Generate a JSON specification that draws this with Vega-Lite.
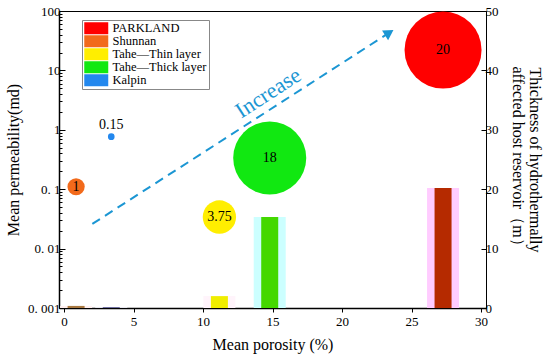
{
  "$schema": "https://vega.github.io/schema/vega-lite/v6.json",
  "width": 427,
  "height": 297,
  "autosize": {"type": "none"},
  "padding": {"left": 59, "top": 11, "right": 64, "bottom": 52},
  "background": "white",
  "config": {
    "font": "Liberation Serif",
    "view": {"stroke": "black", "strokeWidth": 1},
    "axis": {
      "domainColor": "black", "tickColor": "black", "labelColor": "black", "titleColor": "black",
      "labelFont": "Liberation Serif", "titleFont": "Liberation Serif",
      "labelFontSize": 13, "titleFontSize": 16, "titleFontWeight": "normal", "grid": false, "labelOverlap": false
    },
    "legend": {"labelFont": "Liberation Serif"}
  },
  "datasets": {
    "groups": [
      {"group": "PARKLAND", "porosity": 27.27, "permeability": 22, "thickness": 20, "bar_m": 20.2},
      {"group": "Shunnan", "porosity": 0.87, "permeability": 0.11, "thickness": 1, "bar_m": 0.35},
      {"group": "Tahe—Thin layer", "porosity": 11.18, "permeability": 0.034, "thickness": 3.75, "bar_m": 2},
      {"group": "Tahe—Thick layer", "porosity": 14.8, "permeability": 0.335, "thickness": 18, "bar_m": 15.3},
      {"group": "Kalpin", "porosity": 3.4, "permeability": 0.766, "thickness": 0.15, "bar_m": 0.12}
    ],
    "arrow": [
      {"x": 2.04, "y": 0.026, "x2": 23.4, "y2": 43.1}
    ],
    "note": [
      {"x": 14.69, "y": 4.17, "text": "Increase"}
    ]
  },
  "layer": [
    {
      "data": {"name": "groups"},
      "layer": [
        {
          "mark": {"type": "bar", "size": 32},
          "encoding": {
            "x": {"field": "porosity", "type": "quantitative", "scale": {"domain": [0, 30], "nice": false}},
            "y": {"field": "bar_m", "type": "quantitative",
              "scale": {"domain": [0, 50], "nice": false},
              "axis": {"orient": "right", "values": [0, 10, 20, 30, 40, 50], "tickSize": -5, "labelPadding": 4,
                "labelFont": "Liberation Serif", "titleFont": "Liberation Serif", "labelFontSize": 13, "labelOverlap": false,
                "title": ["Thickness of hydrothermally", "affected host reservoir（m）"],
                "titleAngle": 90, "titleLineHeight": 17, "titleBaseline": "bottom", "titlePadding": 11, "domainWidth": 1}},
            "color": {"field": "group", "type": "nominal", "legend": null,
              "scale": {"domain": ["PARKLAND", "Shunnan", "Tahe—Thin layer", "Tahe—Thick layer", "Kalpin"],
                "range": ["#ffccff", "#fff0f0", "#fff4fb", "#ccffff", "#f4f4ff"]}}
          }
        },
        {
          "mark": {"type": "bar", "size": 17},
          "encoding": {
            "x": {"field": "porosity", "type": "quantitative"},
            "y": {"field": "bar_m", "type": "quantitative"},
            "color": {"field": "group", "type": "nominal", "legend": null,
              "scale": {"domain": ["PARKLAND", "Shunnan", "Tahe—Thin layer", "Tahe—Thick layer", "Kalpin"],
                "range": ["#b52a00", "#a87840", "#f0ee00", "#44d800", "#404080"]}}
          }
        }
      ],
      "resolve": {"scale": {"color": "independent"}}
    },
    {
      "layer": [
        {
          "data": {"name": "arrow"},
          "mark": {"type": "rule", "color": "#1b96d3", "strokeWidth": 2, "strokeDash": [9, 6]},
          "encoding": {
            "x": {"field": "x", "type": "quantitative"},
            "y": {"field": "y", "type": "quantitative"},
            "x2": {"field": "x2"},
            "y2": {"field": "y2"}
          }
        },
        {
          "data": {"name": "arrow"},
          "mark": {"type": "point", "shape": "triangle-up", "filled": true, "color": "#1b96d3", "size": 130, "angle": 57.8, "opacity": 1},
          "encoding": {
            "x": {"field": "x2", "type": "quantitative"},
            "y": {"field": "y2", "type": "quantitative"}
          }
        },
        {
          "data": {"name": "note"},
          "mark": {"type": "text", "color": "#1b96d3", "fontSize": 22, "angle": -33, "font": "Liberation Serif"},
          "encoding": {
            "x": {"field": "x", "type": "quantitative"},
            "y": {"field": "y", "type": "quantitative"},
            "text": {"field": "text"}
          }
        },
        {
          "data": {"name": "groups"},
          "mark": {"type": "circle", "opacity": 1},
          "encoding": {
            "x": {"field": "porosity", "type": "quantitative",
              "scale": {"domain": [0, 30], "nice": false},
              "axis": {"values": [0, 5, 10, 15, 20, 25, 30], "tickSize": 4, "labelPadding": 3, "domainWidth": 1.5,
                "labelFont": "Liberation Serif", "titleFont": "Liberation Serif", "labelFontSize": 13, "labelOverlap": false,
                "title": "Mean porosity (%)", "titlePadding": 8}},
            "y": {"field": "permeability", "type": "quantitative",
              "scale": {"type": "log", "domain": [0.001, 100], "nice": false},
              "axis": {"orient": "left",
                "values": [0.001,0.002,0.003,0.004,0.005,0.006,0.007,0.008,0.009,0.01,0.02,0.03,0.04,0.05,0.06,0.07,0.08,0.09,0.1,0.2,0.3,0.4,0.5,0.6,0.7,0.8,0.9,1,2,3,4,5,6,7,8,9,10,20,30,40,50,60,70,80,90,100],
                "labelExpr": "datum.value==100?'100':datum.value==10?'10':datum.value==1?'1':datum.value==0.1?'0. 1':datum.value==0.01?'0. 01':datum.value==0.001?'0. 001':''",
                "tickSize": {"condition": {"test": "indexof([0.001,0.01,0.1,1,10,100], datum.value) >= 0", "value": -6}, "value": -3},
                "labelPadding": 5, "domainWidth": 1.5, "labelOverlap": false, "labelBound": false,
                "labelFont": "Liberation Serif", "titleFont": "Liberation Serif", "labelFontSize": 13,
                "title": "Mean permeability(md)", "titlePadding": 6}},
            "color": {"field": "group", "type": "nominal",
              "scale": {"domain": ["PARKLAND", "Shunnan", "Tahe—Thin layer", "Tahe—Thick layer", "Kalpin"],
                "range": ["#ff0000", "#f26a1b", "#ffee00", "#11e811", "#2388ee"]},
              "legend": {"orient": "none", "legendX": 23, "legendY": 9, "title": null,
                "strokeColor": "#888888", "fillColor": "white", "padding": 2,
                "symbolType": "M-2,-1H2V1H-2Z", "symbolSize": 144, "symbolStrokeWidth": 0,
                "symbolOffset": 6, "labelOffset": 10, "labelFont": "Liberation Serif", "labelFontSize": 12.5, "labelColor": "black", "rowPadding": 0}},
            "size": {"field": "thickness", "type": "quantitative", "legend": null,
              "scale": {"type": "linear", "domain": [0, 20], "range": [0, 5929], "zero": true}},
            "order": {"field": "thickness", "sort": "descending"}
          }
        },
        {
          "data": {"name": "groups"},
          "transform": [{"filter": "datum.group != 'Kalpin'"}],
          "mark": {"type": "text", "fontSize": 14, "color": "black", "font": "Liberation Serif"},
          "encoding": {
            "x": {"field": "porosity", "type": "quantitative"},
            "y": {"field": "permeability", "type": "quantitative"},
            "text": {"field": "thickness", "type": "quantitative"}
          }
        },
        {
          "data": {"name": "groups"},
          "transform": [{"filter": "datum.group == 'Kalpin'"}],
          "mark": {"type": "text", "fontSize": 14, "color": "black", "dy": -12, "font": "Liberation Serif"},
          "encoding": {
            "x": {"field": "porosity", "type": "quantitative"},
            "y": {"field": "permeability", "type": "quantitative"},
            "text": {"field": "thickness", "type": "quantitative"}
          }
        }
      ]
    }
  ],
  "resolve": {"scale": {"y": "independent", "color": "independent", "size": "independent"}}
}
